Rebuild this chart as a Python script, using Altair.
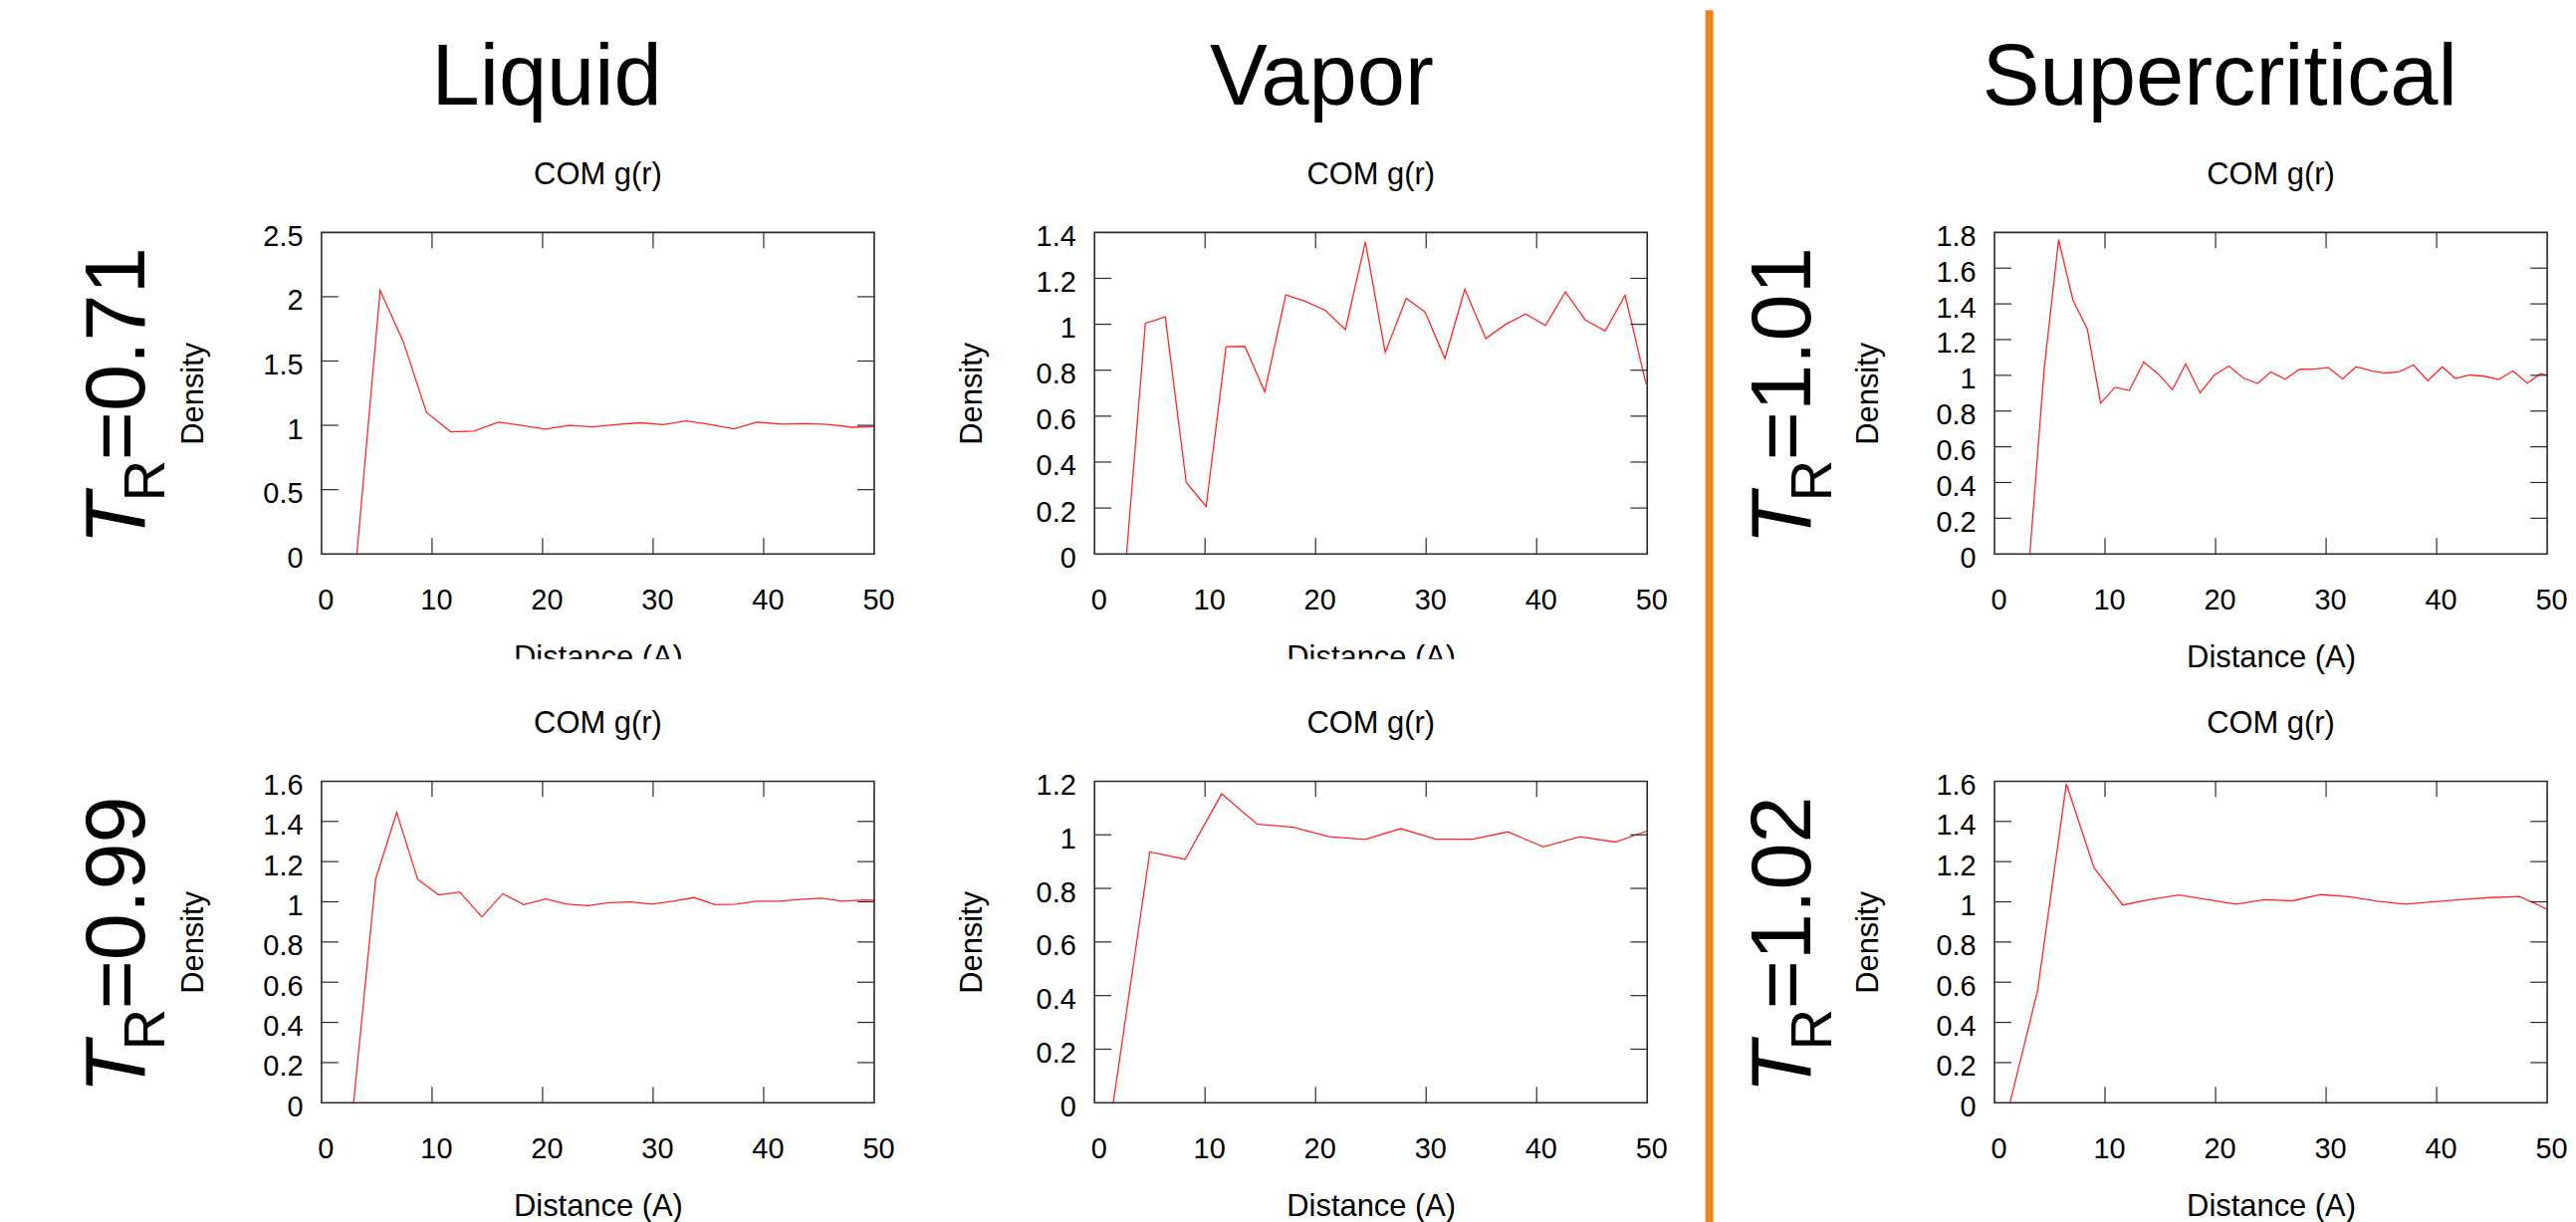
import altair as alt
import pandas as pd

# ---------------- data ----------------
X_TICKS = [0, 10, 20, 30, 40, 50]
X_INNER = [10, 20, 30, 40]

# Liquid, T_R = 0.71
LIQ1_R = [3.2, 5.3, 7.4, 9.5, 11.7, 13.8, 16.0, 18.1, 20.2, 22.4, 24.5, 26.6,
          28.8, 30.9, 33.0, 35.2, 37.3, 39.4, 41.6, 43.7, 45.8, 48.0, 50.1]
LIQ1_G = [0, 2.05, 1.65, 1.10, 0.95, 0.955, 1.025, 1.0, 0.97, 1.0, 0.988, 1.005,
          1.02, 1.005, 1.035, 1.005, 0.972, 1.025, 1.01, 1.013, 1.008, 0.985, 0.99]
LIQ1_Y = [0, 0.5, 1, 1.5, 2, 2.5]

# Vapor, T_R = 0.71
VAP1_R = [2.9, 4.6, 6.4, 8.3, 10.1, 11.9, 13.6, 15.4, 17.3, 19.1, 20.9, 22.7, 24.5,
          26.3, 28.2, 29.9, 31.7, 33.5, 35.4, 37.2, 39.0, 40.8, 42.6, 44.4, 46.2, 48.0, 49.9]
VAP1_G = [0, 1.004, 1.032, 0.311, 0.207, 0.902, 0.904, 0.706, 1.128, 1.10, 1.06, 0.977,
          1.359, 0.877, 1.113, 1.054, 0.851, 1.152, 0.938, 1.0, 1.045, 0.995, 1.141, 1.019,
          0.971, 1.126, 0.74]
VAP1_Y = [0, 0.2, 0.4, 0.6, 0.8, 1, 1.2, 1.4]

# Supercritical, T_R = 1.01
SUP1_R = [3.2, 4.5, 5.8, 7.1, 8.4, 9.6, 10.9, 12.2, 13.5, 14.8, 16.1, 17.3,
          18.6, 19.9, 21.2, 22.5, 23.8, 25.0, 26.3, 27.6, 28.9, 30.2, 31.5, 32.7, 34.0,
          35.3, 36.6, 37.9, 39.2, 40.5, 41.7, 43.0, 44.3, 45.6, 46.9, 48.2, 49.4, 50.7]
SUP1_G = [0, 1.039, 1.759, 1.42, 1.258, 0.844, 0.933, 0.915, 1.074, 1.008, 0.92,
          1.063, 0.902, 1.002, 1.052, 0.985, 0.954, 1.019, 0.978, 1.034, 1.035, 1.043,
          0.98, 1.048, 1.026, 1.013, 1.019, 1.058, 0.97, 1.047, 0.982, 1.002, 0.995,
          0.976, 1.024, 0.956, 1.009, 0.99]
SUP1_Y = [0, 0.2, 0.4, 0.6, 0.8, 1, 1.2, 1.4, 1.6, 1.8]

# Liquid, T_R = 0.99
LIQ2_R = [2.9, 4.9, 6.8, 8.7, 10.6, 12.5, 14.5, 16.4, 18.3, 20.3, 22.2, 24.1, 26.0,
          28.0, 29.9, 31.8, 33.7, 35.6, 37.5, 39.4, 41.4, 43.3, 45.2, 47.1, 49.1, 51.0]
LIQ2_G = [0, 1.114, 1.444, 1.112, 1.034, 1.049, 0.925, 1.04, 0.986, 1.014, 0.988,
          0.981, 0.996, 0.999, 0.988, 1.003, 1.021, 0.986, 0.988, 1.003, 1.003, 1.012,
          1.018, 1.003, 1.009, 1.008]
LIQ2_Y = [0, 0.2, 0.4, 0.6, 0.8, 1, 1.2, 1.4, 1.6]

# Vapor, T_R = 0.99
VAP2_R = [1.7, 5.0, 8.2, 11.5, 14.7, 18.0, 21.2, 24.5, 27.7, 30.9, 34.2, 37.4, 40.6,
          43.9, 47.1, 50.4]
VAP2_G = [0, 0.936, 0.909, 1.153, 1.04, 1.028, 0.993, 0.983, 1.023, 0.984, 0.984,
          1.011, 0.955, 0.993, 0.973, 1.02]
VAP2_Y = [0, 0.2, 0.4, 0.6, 0.8, 1, 1.2]

# Supercritical, T_R = 1.02
SUP2_R = [1.4, 3.9, 6.5, 9.0, 11.6, 14.1, 16.7, 19.3, 21.9, 24.4, 27.0, 29.5, 32.1,
          34.6, 37.2, 39.8, 42.4, 44.9, 47.5, 50.0]
SUP2_G = [0, 0.558, 1.587, 1.17, 0.984, 1.012, 1.034, 1.01, 0.988, 1.01, 1.005, 1.036,
          1.025, 1.003, 0.988, 1.001, 1.012, 1.021, 1.027, 0.963]
SUP2_Y = [0, 0.2, 0.4, 0.6, 0.8, 1, 1.2, 1.4, 1.6]

COLUMN_TITLES = ["Liquid", "Vapor", "Supercritical"]
PANEL_TITLE = "COM g(r)"
X_TITLE = "Distance (A)"
Y_TITLE = "Density"
ROW_T_LEFT = ["0.71", "0.99"]
ROW_T_RIGHT = ["1.01", "1.02"]

# ---------------- style ----------------
W, H = 557, 324
FONT = "Liberation Sans"
RED = "#ff2626"
EDGE = "#2a2a2a"
ORANGE = "#ef8519"
ONE = pd.DataFrame({"k": [0]})


def txt(s):
    return pd.DataFrame({"label": [s]})


def panel(r, g, yticks, ytitle_pad, extras):
    xs = alt.Scale(domain=[0, 50], nice=False, zero=False)
    ys = alt.Scale(domain=[0, yticks[-1]], nice=False, zero=False)
    X = alt.X("r:Q", scale=xs, axis=alt.Axis(
        values=X_TICKS, format="d", title=X_TITLE, ticks=False, tickSize=0,
        domain=False, grid=False, labelFont=FONT, labelFontSize=29, labelColor="black",
        labelPadding=32, labelOffset=4, labelFlush=False, labelOverlap=False,
        titleFont=FONT, titleFontSize=31, titleFontWeight="normal", titleColor="black",
        titlePadding=29, zindex=0))
    Y = alt.Y("g:Q", scale=ys, axis=alt.Axis(
        values=yticks, format="~g", title=Y_TITLE, ticks=False, tickSize=0,
        domain=False, grid=False, labelFont=FONT, labelFontSize=29, labelColor="black",
        labelPadding=19, labelOffset=4, labelFlush=False, labelOverlap=False,
        titleFont=FONT, titleFontSize=31, titleFontWeight="normal", titleColor="black",
        titlePadding=ytitle_pad, zindex=0))
    line = alt.Chart(pd.DataFrame({"r": r, "g": g})).mark_line(
        color=RED, strokeWidth=1.3, clip=True).encode(x=X, y=Y)
    xt = pd.DataFrame({"r": X_INNER})
    yt = pd.DataFrame({"g": yticks[1:-1]})
    rule = dict(color=EDGE, strokeWidth=1.2)
    t_top = alt.Chart(xt).mark_rule(**rule).encode(x=X, y=alt.value(0), y2=alt.value(16))
    t_bot = alt.Chart(xt).mark_rule(**rule).encode(x=X, y=alt.value(H - 16), y2=alt.value(H))
    t_lft = alt.Chart(yt).mark_rule(**rule).encode(y=Y, x=alt.value(0), x2=alt.value(17))
    t_rgt = alt.Chart(yt).mark_rule(**rule).encode(y=Y, x=alt.value(W - 17), x2=alt.value(W))
    frame = alt.Chart(ONE).mark_rect(
        fill="white", fillOpacity=0, stroke=EDGE, strokeWidth=1.6
    ).encode(x=alt.value(0), x2=alt.value(W), y=alt.value(0), y2=alt.value(H))
    cap = alt.Chart(txt(PANEL_TITLE)).mark_text(
        font=FONT, fontSize=31, align="center", baseline="alphabetic", color="black"
    ).encode(x=alt.value(W / 2), y=alt.value(-49), text="label:N")
    return alt.layer(line, t_top, t_bot, t_lft, t_rgt, frame, cap, *extras).properties(
        width=W, height=H)


def col_title(s, cx):
    return alt.Chart(txt(s)).mark_text(
        font=FONT, fontSize=87, align="center", baseline="alphabetic", color="black"
    ).encode(x=alt.value(cx), y=alt.value(-129), text="label:N")


def row_label(val, bx):
    common = dict(font=FONT, angle=270, align="left", baseline="alphabetic", color="black")
    t = alt.Chart(txt("T")).mark_text(fontSize=86, fontStyle="italic", **common).encode(
        x=alt.value(bx), y=alt.value(315), text="label:N")
    sub = alt.Chart(txt("R")).mark_text(fontSize=58, **common).encode(
        x=alt.value(bx + 21), y=alt.value(271), text="label:N")
    rest = alt.Chart(txt("=" + val)).mark_text(fontSize=85, **common).encode(
        x=alt.value(bx), y=alt.value(230), text="label:N")
    return [t, sub, rest]


def cover():
    return alt.Chart(ONE).mark_rect(color="white").encode(
        x=alt.value(0), x2=alt.value(W), y=alt.value(430), y2=alt.value(480))


def spacer(width, extras=()):
    base = alt.Chart(ONE).mark_rule(strokeOpacity=0).encode(
        x=alt.value(0), y=alt.value(0), y2=alt.value(1))
    return alt.layer(base, *extras).properties(width=width, height=H)


marker = alt.Chart(ONE).mark_rule(strokeOpacity=0, color="white").encode(
    x=alt.value(-316), y=alt.value(-224), y2=alt.value(-223))

orange = alt.Chart(ONE).mark_rect(color=ORANGE).encode(
    x=alt.value(58.6), x2=alt.value(66.6), y=alt.value(-224), y2=alt.value(1000))

liq1 = panel(LIQ1_R, LIQ1_G, LIQ1_Y, 54,
             [col_title(COLUMN_TITLES[0], 227), cover(), marker] + row_label(ROW_T_LEFT[0], -179))
vap1 = panel(VAP1_R, VAP1_G, VAP1_Y, 48, [col_title(COLUMN_TITLES[1], 229), cover()])
sup1 = panel(SUP1_R, SUP1_G, SUP1_Y, 52,
             [col_title(COLUMN_TITLES[2], 227)] + row_label(ROW_T_RIGHT[0], -186))
liq2 = panel(LIQ2_R, LIQ2_G, LIQ2_Y, 54, row_label(ROW_T_LEFT[1], -179))
vap2 = panel(VAP2_R, VAP2_G, VAP2_Y, 48, [])
sup2 = panel(SUP2_R, SUP2_G, SUP2_Y, 52, row_label(ROW_T_RIGHT[1], -186))

chart = alt.concat(
    liq1, spacer(222), vap1, spacer(350, [orange]), sup1,
    liq2, spacer(222), vap2, spacer(350), sup2,
    columns=5, spacing={"row": 229, "column": 0}, bounds="flush", align="each"
).properties(padding=0, background="white").configure_view(strokeOpacity=0)

chart.save("out.html", embed_options={"renderer": "svg", "actions": False})
